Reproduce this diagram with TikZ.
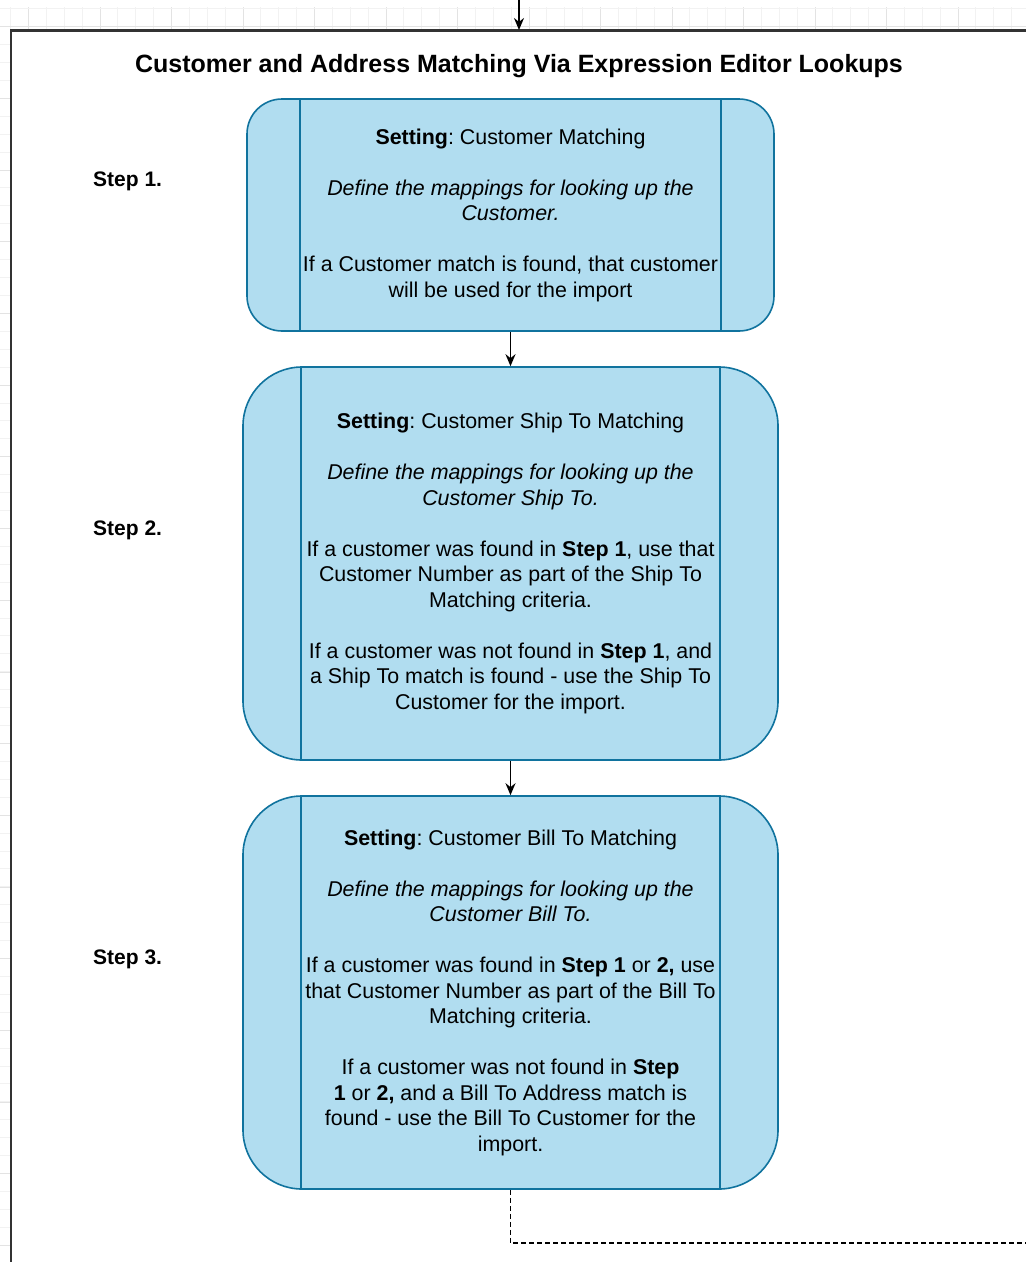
\documentclass[tikz,border=0pt]{standalone}
\usepackage{fontspec}
\setmainfont{Liberation Sans}
\usetikzlibrary{arrows.meta,calc}
\definecolor{boxfill}{HTML}{B1DDF0}
\definecolor{boxline}{HTML}{10739E}
\definecolor{frame}{HTML}{333333}
\frenchspacing
\tikzset{
  stepbox/.style={draw=boxline, fill=boxfill, line width=1.6pt, align=center,
    font=\fontsize{21.4}{25.5}\selectfont, inner sep=0pt, text=black},
  steplbl/.style={font=\fontsize{21}{25.5}\selectfont\bfseries, anchor=base west, inner sep=0pt},
  titlelbl/.style={font=\fontsize{25}{30}\selectfont\bfseries, anchor=base, inner sep=0pt},
  sideline/.style={draw=boxline, line width=1.6pt},
  conn/.style={-{Stealth[length=12pt,width=10pt]}, line width=1.6pt},
  dconn/.style={line width=1.5pt, dash pattern=on 5pt off 3pt},
  gridminor/.style={draw=gray!10, line width=0.8pt},
  gridmajor/.style={draw=gray!22, line width=0.8pt}
}
\begin{document}
\begin{tikzpicture}[x=1pt,y=-1pt]
\useasboundingbox (0,0) rectangle (1026,1262);
\fill[white] (0,0) rectangle (1026,1262);
% background grid
\begin{scope}
\clip (0,7) rectangle (1026,30);
\foreach \i in {0,...,58} \draw[gridminor] ({10.6+17.875*\i},0) -- ++(0,40);
\foreach \i in {0,...,14} \draw[gridmajor] ({28.5+71.5*\i},0) -- ++(0,40);
\draw[gridminor] (0,8.7) -- (1026,8.7);
\draw[gridmajor] (0,26.6) -- (1026,26.6);
\end{scope}
\begin{scope}
\clip (0,30) rectangle (10,1262);
\foreach \i in {0,...,70} \draw[gridminor] (0,{26.6+17.92*\i}) -- ++(12,0);
\foreach \i in {0,...,17} \draw[gridmajor] (0,{26.6+71.7*\i}) -- ++(12,0);
\end{scope}
% container
\draw[frame, line width=2.2pt] (11,1270) -- (11,30.5) -- (1035,30.5);
\coordinate (topin) at (519,-2);
\coordinate (ctop) at (519,30);
\draw[conn] (topin) -- (ctop);
% title
\node[titlelbl] (title) at (519,72) {Customer and Address Matching Via Expression Editor Lookups};
% step labels
\node[steplbl] (s1) at (93,186) {Step 1.};
\node[steplbl] (s2) at (93,535) {Step 2.};
\node[steplbl] (s3) at (93,964) {Step 3.};
% boxes
\node[stepbox, minimum width=527pt, minimum height=232pt, rounded corners=35pt] (b1) at (510.5,215) {%
\textbf{Setting}: Customer Matching\\[25.5pt]
\textit{Define the mappings for looking up the}\\
\textit{Customer.}\\[25.5pt]
If a Customer match is found, that customer\\
will be used for the import};
\draw[sideline] ($(b1.north west)+(54,0)$) -- ($(b1.south west)+(54,0)$);
\draw[sideline] ($(b1.north east)+(-54,0)$) -- ($(b1.south east)+(-54,0)$);

\node[stepbox, minimum width=535pt, minimum height=393pt, rounded corners=59pt] (b2) at (510.5,563.5) {%
\textbf{Setting}: Customer Ship To Matching\\[25.5pt]
\textit{Define the mappings for looking up the}\\
\textit{Customer Ship To.}\\[25.5pt]
If a customer was found in \textbf{Step 1}, use that\\
Customer Number as part of the Ship To\\
Matching criteria.\\[25.5pt]
If a customer was not found in \textbf{Step 1}, and\\
a Ship To match is found - use the Ship To\\
Customer for the import.};
\draw[sideline] ($(b2.north west)+(59,0)$) -- ($(b2.south west)+(59,0)$);
\draw[sideline] ($(b2.north east)+(-59,0)$) -- ($(b2.south east)+(-59,0)$);

\node[stepbox, minimum width=535pt, minimum height=393pt, rounded corners=59pt] (b3) at (510.5,992.5) {%
\textbf{Setting}: Customer Bill To Matching\\[25.5pt]
\textit{Define the mappings for looking up the}\\
\textit{Customer Bill To.}\\[25.5pt]
If a customer was found in \textbf{Step 1} or \textbf{2,} use\\
that Customer Number as part of the Bill To\\
Matching criteria.\\[25.5pt]
If a customer was not found in \textbf{Step}\\
\textbf{1} or \textbf{2,} and a Bill To Address match is\\
found - use the Bill To Customer for the\\
import.};
\draw[sideline] ($(b3.north west)+(59,0)$) -- ($(b3.south west)+(59,0)$);
\draw[sideline] ($(b3.north east)+(-59,0)$) -- ($(b3.south east)+(-59,0)$);

% connectors
\draw[conn] (b1.south) -- (b2.north);
\draw[conn] (b2.south) -- (b3.north);
\coordinate (dend) at (1035,1243);
\draw[dconn] (b3.south) |- (dend);
\end{tikzpicture}
\end{document}
